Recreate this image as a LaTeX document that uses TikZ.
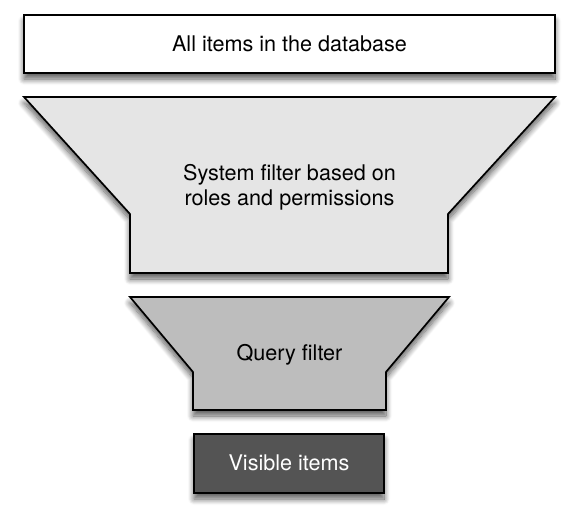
\documentclass[tikz,border=0pt]{standalone}
\usepackage{fontspec}
\setmainfont{TeX Gyre Heros}
\usetikzlibrary{shadows.blur}

\begin{document}
\begin{tikzpicture}[x=1pt,y=-1pt,
	stage/.style={draw=black,line width=1.7pt,blur shadow={shadow xshift=0pt,shadow yshift=-6pt,shadow blur radius=6pt,shadow blur steps=10,shadow opacity=65}},
	stagetext/.style={font=\fontsize{21.6}{25}\selectfont,align=center}]
	\useasboundingbox (0,0) rectangle (579,524);
	% all items
	\draw[stage,fill=white] (24,15) rectangle (555,73);
	% system filter funnel
	\draw[stage,fill=black!10] (24,97) -- (555,97) -- (448,214) -- (448,273) -- (130,273) -- (130,214) -- cycle;
	% query filter funnel
	\draw[stage,fill=black!26] (130,297) -- (449,297) -- (386,372) -- (386,410) -- (193,410) -- (193,372) -- cycle;
	% visible items
	\draw[stage,fill=black!67] (194,434) rectangle (384,493);

	\node[stagetext] (all) at (289.5,44) {All items in the database};
	\node[stagetext] (system) at (289.5,187) {System filter based on\\roles and permissions};
	\node[stagetext] (query) at (289.5,355) {Query filter};
	\node[stagetext,text=white] (visible) at (289,463) {Visible items};
\end{tikzpicture}
\end{document}
